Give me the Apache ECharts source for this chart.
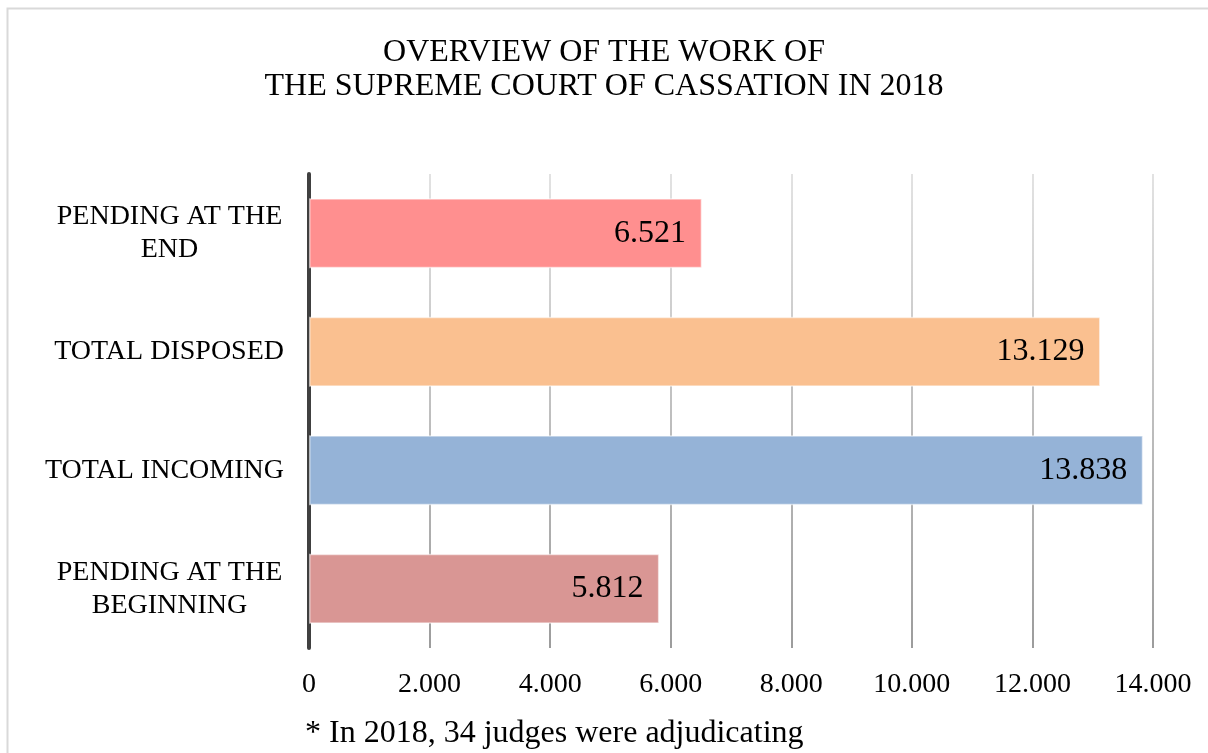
<!DOCTYPE html>
<html>
<head>
<meta charset="utf-8">
<script src="https://cdn.jsdelivr.net/npm/echarts@6/dist/echarts.min.js"></script>
<style>
  html, body { margin: 0; padding: 0; background: #fff; }
  #main { width: 1208px; height: 753px; }
</style>
</head>
<body>
<div id="main"></div>
<script>
// categories from bottom to top
const categories = ['PENDING AT THE\nBEGINNING', 'TOTAL INCOMING', 'TOTAL DISPOSED', 'PENDING AT THE\nEND']
const values = [5812, 13838, 13129, 6521]
const barColors = ['#d99694', '#95b3d7', '#fac090', '#ff8f8f']
const xTicks = [0, 2000, 4000, 6000, 8000, 10000, 12000, 14000]

const serif = '"Liberation Serif", "Times New Roman", serif'

function fmt(v) {
  return String(v).replace(/\B(?=(\d{3})+(?!\d))/g, '.')
}

const chart = echarts.init(document.getElementById('main'))
chart.setOption({
  animation: false,
  title: {
    text: 'OVERVIEW OF THE WORK OF\nTHE SUPREME COURT OF CASSATION IN 2018',
    left: 'center',
    top: 31,
    textStyle: { fontFamily: serif, fontSize: 32, fontWeight: 'normal', color: '#000', lineHeight: 34 },
  },
  grid: { left: 309, right: 55, top: 174, bottom: 105 },
  xAxis: {
    type: 'value',
    min: xTicks[0],
    max: xTicks[xTicks.length - 1],
    interval: 2000,
    axisLine: { show: false },
    axisTick: { show: false },
    axisLabel: {
      margin: 23,
      fontFamily: serif,
      fontSize: 28,
      color: '#000',
      formatter: (v) => fmt(v),
    },
    splitLine: {
      lineStyle: {
        width: 2,
        color: {
          type: 'linear', x: 0, y: 174, x2: 0, y2: 648, global: true,
          colorStops: [
            { offset: 0, color: '#e2e2e2' },
            { offset: 1, color: '#9c9c9c' },
          ],
        },
      },
    },
  },
  yAxis: {
    type: 'category',
    data: categories,
    axisLine: { lineStyle: { color: '#404040', width: 4 } },
    axisTick: { show: false },
    axisLabel: {
      margin: 25,
      fontFamily: serif,
      fontSize: 28,
      color: '#000',
      lineHeight: 33,
      formatter: (v) => {
        if (v.indexOf('\n') < 0) return v
        return v.split('\n').map((s) => '{c|' + s + '}').join('\n')
      },
      rich: {
        c: { width: 229, align: 'center', fontFamily: serif, fontSize: 28, lineHeight: 33, color: '#000' },
      },
    },
  },
  series: [
    {
      type: 'bar',
      data: values.map((v, i) => ({ value: v, itemStyle: { color: barColors[i] } })),
      barWidth: 70,
      itemStyle: { borderColor: 'rgba(255,255,255,0.55)', borderWidth: 1.5 },
      label: {
        show: true,
        position: 'insideRight',
        distance: 16,
        fontFamily: serif,
        fontSize: 32,
        color: '#000',
        formatter: (p) => fmt(p.value),
      },
    },
  ],
  graphic: [
    {
      type: 'rect',
      shape: { x: 7.5, y: 8.5, width: 1300, height: 800 },
      style: { fill: 'none', stroke: '#d9d9d9', lineWidth: 2 },
      silent: true,
    },
    {
      type: 'text',
      left: 305,
      top: 718,
      style: { text: '* In 2018, 34 judges were adjudicating', font: '32px ' + serif, fill: '#000' },
    },
  ],
})
</script>
</body>
</html>
